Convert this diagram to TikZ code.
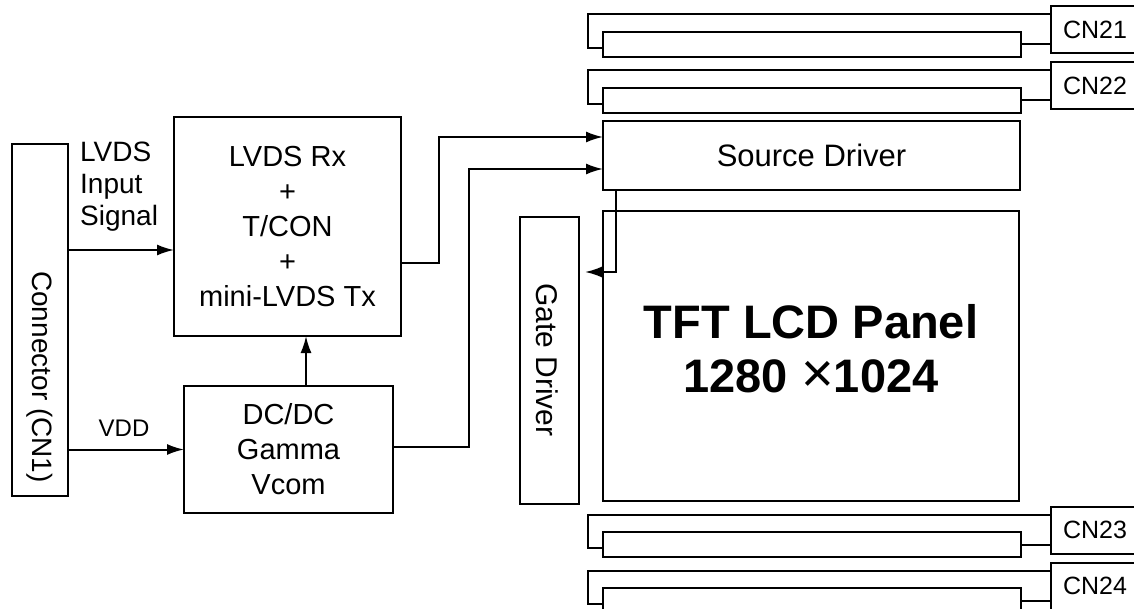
\documentclass[tikz,border=0pt]{standalone}
\usepackage{fontspec}
\setmainfont{Liberation Sans}
\usetikzlibrary{arrows.meta}

\tikzset{
  box/.style={draw, line width=2pt, inner sep=0pt, outer sep=0pt, align=center, font=\fontsize{29}{35}\selectfont},
  arr/.style={-{Latex[length=17pt,width=11pt]}, line width=2pt},
  wire/.style={line width=2pt},
  txt/.style={inner sep=0pt, align=left, font=\fontsize{28}{32}\selectfont},
  cnbox/.style={box, minimum width=88pt, minimum height=47pt, font=\fontsize{25}{30}\selectfont},
  fpc/.style={box, minimum width=418pt, minimum height=25pt}
}

\begin{document}
\begin{tikzpicture}[x=1pt,y=-1pt]
\useasboundingbox (0,0) rectangle (1134,609);

% Connector and controller boxes
\node[box, minimum width=56pt, minimum height=352pt] (cn1) at (40,320) {};
\node[txt, rotate=-90, font=\fontsize{28}{32}\selectfont] (cn1txt) at (40,377) {Connector (CN1)};
\node[box, minimum width=227pt, minimum height=219pt] (rx) at (287.5,226.5) {LVDS Rx\\+\\T/CON\\+\\mini-LVDS Tx};
\node[box, minimum width=209pt, minimum height=127pt] (dc) at (288.5,449.5) {DC/DC\\Gamma\\Vcom};

% Signal labels
\node[txt, anchor=north west] (lvdslbl) at (80,142) {LVDS\\Input\\Signal};
\node[txt, font=\fontsize{24}{28}\selectfont] (vddlbl) at (124,428) {VDD};

% Panel with source and gate drivers
\node[box, minimum width=417pt, minimum height=69pt, font=\fontsize{31}{36}\selectfont] (sd) at (811.5,155.5) {Source Driver};
\node[box, minimum width=59pt, minimum height=287pt] (gate) at (549.5,360.5) {};
\node[txt, rotate=-90, font=\fontsize{30}{36}\selectfont] (gatetxt) at (547,360) {Gate Driver};
\node[box, minimum width=416pt, minimum height=290pt] (panel) at (811,356) {};
\node[txt, align=center, font=\fontsize{47}{54}\selectfont\bfseries] (paneltxt) at (811,349) {TFT LCD Panel\\1280 {\fontseries{m}\fontsize{56}{54}\selectfont ×}1024};

% Signal paths
\coordinate (rxin) at ([yshift=-23.5pt]rx.west);
\draw[arr] (cn1.east |- rxin) -- (rxin);
\draw[arr] (cn1.east |- dc.west) -- (dc.west);
\coordinate (dcup) at ([xshift=17.5pt]dc.north);
\draw[arr] (dcup) -- (dcup |- rx.south);
\draw[arr] ([yshift=-36.5pt]rx.east) -- ++(38,0) |- ([yshift=18.5pt]sd.west);
\draw[arr] ([yshift=2.5pt]dc.east) -- ++(76,0) |- ([yshift=-13.5pt]sd.west);
\coordinate (gin) at ([yshift=88.5pt]gate.east);
\draw[arr, shorten >=6pt] ([xshift=13pt]sd.south west) |- (gin);

% Flex cables and connectors CN21 - CN24
\node[cnbox] (cn21) at (1095,30) {CN21};
\node[fpc] (fpc21) at (812,44.5) {};
\draw[wire] ([yshift=-8pt]cn21.north west) -- ++(-463,0) |- ([yshift=-3.5pt]fpc21.west);
\draw[wire] (fpc21.east) -- (fpc21.east -| cn21.west);

\node[cnbox] (cn22) at (1095,86) {CN22};
\node[fpc] (fpc22) at (812,100.5) {};
\draw[wire] ([yshift=-8pt]cn22.north west) -- ++(-463,0) |- ([yshift=-3.5pt]fpc22.west);
\draw[wire] (fpc22.east) -- (fpc22.east -| cn22.west);

\node[cnbox] (cn23) at (1095,530) {CN23};
\node[fpc] (fpc23) at (812,544.5) {};
\draw[wire] ([yshift=-8pt]cn23.north west) -- ++(-463,0) |- ([yshift=-3.5pt]fpc23.west);
\draw[wire] (fpc23.east) -- (fpc23.east -| cn23.west);

\node[cnbox] (cn24) at (1095,586) {CN24};
\node[fpc] (fpc24) at (812,600.5) {};
\draw[wire] ([yshift=-8pt]cn24.north west) -- ++(-463,0) |- ([yshift=-3.5pt]fpc24.west);
\draw[wire] (fpc24.east) -- (fpc24.east -| cn24.west);
\end{tikzpicture}
\end{document}
